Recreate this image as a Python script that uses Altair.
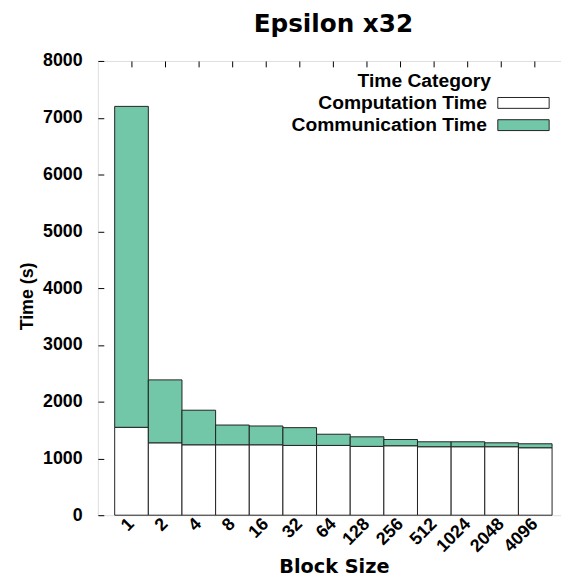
import altair as alt
import pandas as pd

# ---- data ----
block_sizes = ["1", "2", "4", "8", "16", "32", "64", "128", "256", "512", "1024", "2048", "4096"]
computation_time = [1548, 1275, 1240, 1240, 1240, 1229, 1229, 1212, 1223, 1206, 1206, 1206, 1188]
communication_time = [5652, 1108, 609, 348, 331, 313, 197, 168, 110, 87, 87, 69, 70]
categories = ["Computation Time", "Communication Time"]
y_ticks = [0, 1000, 2000, 3000, 4000, 5000, 6000, 7000, 8000]

rows = []
for b, c, m in zip(block_sizes, computation_time, communication_time):
    rows.append({"Block Size": b, "Time Category": categories[0], "Time": c, "order": 0})
    rows.append({"Block Size": b, "Time Category": categories[1], "Time": m, "order": 1})
df = pd.DataFrame(rows)

FONT = "Liberation Sans"
WIDE = "DejaVu Sans"
W, H = 477, 460
GREEN = "#72c7a8"
EDGE = "#222222"

x_scale = alt.Scale(domain=block_sizes, paddingInner=0, paddingOuter=0.5)
y_scale = alt.Scale(domain=[0, 8000], nice=False)
fill_scale = alt.Scale(domain=categories, range=["white", GREEN])

bars = alt.Chart(df).mark_bar(stroke=EDGE, strokeWidth=1).encode(
    x=alt.X("Block Size:N", scale=x_scale, sort=block_sizes,
            axis=alt.Axis(orient="bottom", title="Block Size", labelAngle=-45,
                          labelAlign="right", labelBaseline="middle", labelPadding=6,
                          ticks=False, domain=False, labelFontSize=18, labelFont=FONT,
                          labelFontWeight="bold", labelColor="black",
                          titleFontSize=19.5, titleFont=WIDE, titleFontWeight="bold",
                          titleColor="black", titleX=239, titleY=58,
                          titleBaseline="alphabetic", titleAlign="center")),
    y=alt.Y("Time:Q", scale=y_scale, stack="zero",
            axis=alt.Axis(orient="left", title="Time (s)", values=y_ticks, format="d",
                          ticks=False, domain=False, grid=False, labelPadding=16,
                          labelFontSize=18, labelFont=FONT, labelFontWeight="bold",
                          labelColor="black", titleFontSize=18, titleFont=FONT,
                          titleFontWeight="bold", titleColor="black", titleX=-71,
                          titleY=238, titleAngle=-90, titleAlign="center",
                          titleBaseline="middle")),
    fill=alt.Fill("Time Category:N", scale=fill_scale, legend=None),
    order=alt.Order("order:Q"),
)

ticks_layer = alt.Chart(df).mark_point(opacity=0).encode(
    x=alt.X("Block Size:N", scale=x_scale, sort=block_sizes,
            axis=alt.Axis(orient="bottom", offset=-H, labels=False, domain=False,
                          ticks=True, tickSize=6, tickColor="black", title=None)),
    y=alt.Y("Time:Q", scale=y_scale,
            axis=alt.Axis(orient="right", offset=-W, labels=False, domain=False,
                          values=y_ticks, ticks=True, tickSize=6, tickColor="black",
                          grid=False, title=None)),
)

# ---- gnuplot-style key (labels right-aligned, swatches to their right) ----
LEG_FONT = dict(font=FONT, fontSize=19.5, fontWeight="bold", color="black")
legend_title = alt.Chart(pd.DataFrame({"t": ["Time Category"]})).mark_text(
    align="right", baseline="middle", **LEG_FONT
).encode(x=alt.value(398), y=alt.value(20), text="t:N")

legend_layers = [legend_title]
for cat, ymid in zip(categories, [42.5, 65]):
    d = pd.DataFrame({"Time Category": [cat]})
    legend_layers.append(
        alt.Chart(d).mark_text(align="right", baseline="middle", **LEG_FONT).encode(
            x=alt.value(394), y=alt.value(ymid), text="Time Category:N"))
    legend_layers.append(
        alt.Chart(d).mark_rect(stroke=EDGE, strokeWidth=1).encode(
            x=alt.value(405), x2=alt.value(457),
            y=alt.value(ymid - 5.5), y2=alt.value(ymid + 5.5),
            fill=alt.Fill("Time Category:N", scale=fill_scale, legend=None)))

chart = alt.layer(bars, ticks_layer, *legend_layers).resolve_axis(
    x="independent", y="independent"
).properties(
    width=W, height=H,
    title=alt.Title("Epsilon x32", font=WIDE, fontSize=25, fontWeight="bold",
                    color="black", anchor="middle", frame="group", offset=15),
    autosize=alt.AutoSizeParams(type="none"),
    padding={"left": 91, "top": 50, "right": -8, "bottom": 62},
).configure_view(stroke="black", strokeWidth=1).configure(background="white")

chart.save("out.html", embed_options={"renderer": "svg", "actions": False})
